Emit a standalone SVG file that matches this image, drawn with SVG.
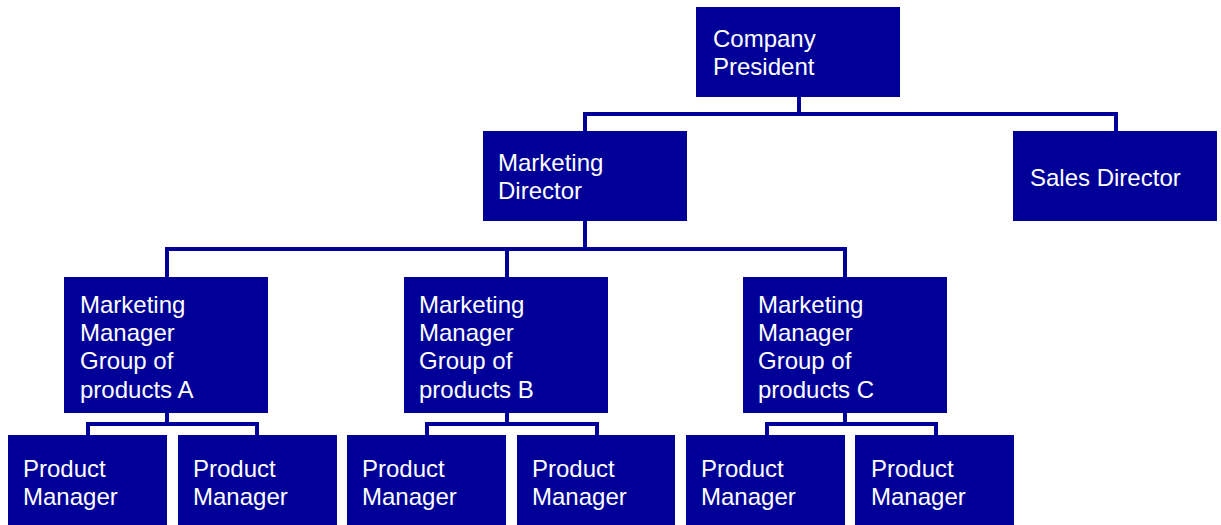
<svg xmlns="http://www.w3.org/2000/svg" width="1221" height="525" viewBox="0 0 1221 525">
<style>
.box{fill:#000099}
.t{font-family:"Liberation Sans",Arial,sans-serif;font-size:24px;fill:#ffffff}
.c{fill:none;stroke:#000099;stroke-width:4}
</style>
<rect width="1221" height="525" fill="#ffffff"/>
<g id="connectors">
<path class="c" d="M799 97V114M585 133V114H1116V133"/>
<path class="c" d="M585 221V249M167 279V249H845V279M507 249V279"/>
<path class="c" d="M167 413V424M88 437V424H257V437"/>
<path class="c" d="M507 413V424M427 437V424H597V437"/>
<path class="c" d="M845 413V424M767 437V424H936V437"/>
</g>
<g id="president"><rect class="box" x="696" y="7" width="204" height="90"/><text class="t" x="713" y="47">Company</text><text class="t" x="713" y="75">President</text></g>
<g id="marketing-director"><rect class="box" x="483" y="131" width="204" height="90"/><text class="t" x="498" y="171">Marketing</text><text class="t" x="498" y="199">Director</text></g>
<g id="sales-director"><rect class="box" x="1013" y="131" width="204" height="90"/><text class="t" x="1030" y="186">Sales Director</text></g>
<g id="mgr-a"><rect class="box" x="64" y="277" width="204" height="136"/><text class="t" x="80" y="312.5">Marketing</text><text class="t" x="80" y="341">Manager</text><text class="t" x="80" y="369">Group of</text><text class="t" x="80" y="397.5">products A</text></g>
<g id="mgr-b"><rect class="box" x="404" y="277" width="204" height="136"/><text class="t" x="419" y="312.5">Marketing</text><text class="t" x="419" y="341">Manager</text><text class="t" x="419" y="369">Group of</text><text class="t" x="419" y="397.5">products B</text></g>
<g id="mgr-c"><rect class="box" x="743" y="277" width="204" height="136"/><text class="t" x="758" y="312.5">Marketing</text><text class="t" x="758" y="341">Manager</text><text class="t" x="758" y="369">Group of</text><text class="t" x="758" y="397.5">products C</text></g>
<g id="pm-a1"><rect class="box" x="8" y="435" width="159" height="90"/><text class="t" x="23" y="477">Product</text><text class="t" x="23" y="505">Manager</text></g>
<g id="pm-a2"><rect class="box" x="178" y="435" width="159" height="90"/><text class="t" x="193" y="477">Product</text><text class="t" x="193" y="505">Manager</text></g>
<g id="pm-b1"><rect class="box" x="347" y="435" width="159" height="90"/><text class="t" x="362" y="477">Product</text><text class="t" x="362" y="505">Manager</text></g>
<g id="pm-b2"><rect class="box" x="517" y="435" width="158" height="90"/><text class="t" x="532" y="477">Product</text><text class="t" x="532" y="505">Manager</text></g>
<g id="pm-c1"><rect class="box" x="686" y="435" width="159" height="90"/><text class="t" x="701" y="477">Product</text><text class="t" x="701" y="505">Manager</text></g>
<g id="pm-c2"><rect class="box" x="855" y="435" width="159" height="90"/><text class="t" x="871" y="477">Product</text><text class="t" x="871" y="505">Manager</text></g>
</svg>
